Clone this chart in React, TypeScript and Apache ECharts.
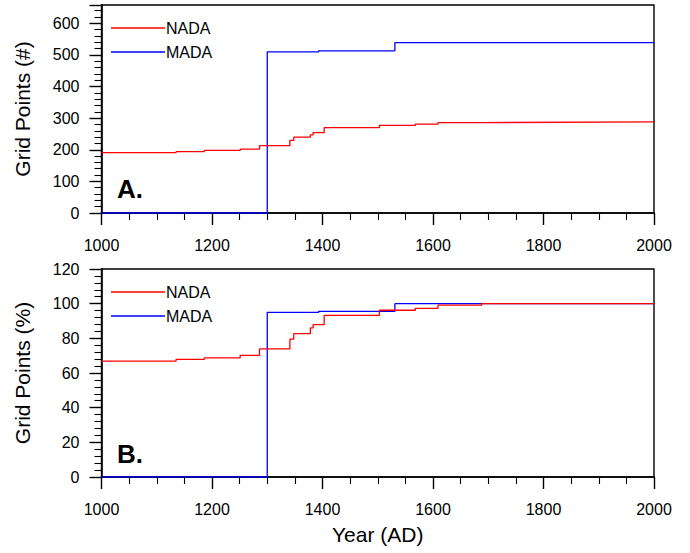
import React, { useEffect, useRef } from "react";
import * as echarts from "echarts";

// NADA step changes (year, count / percent)
const nadaYears = [1000, 1135, 1186, 1251, 1286, 1341, 1348, 1378, 1383, 1403, 1503, 1568, 1609, 1688, 2000];
const nadaCount = [191, 194, 198, 202, 213, 230, 240, 247, 254, 270, 277, 281, 286, 288, 288];
const nadaPct = [66.9, 67.9, 68.7, 70.2, 73.9, 79.6, 82.7, 86.0, 87.9, 93.3, 96.2, 97.3, 99.2, 100, 100];

// MADA step changes
const madaYears = [1000, 1300, 1393, 1531, 2000];
const madaCount = [0, 510, 513, 539, 539];
const madaPct = [0, 95.0, 95.6, 100, 100];

const xTicks = { min: 1000, max: 2000, interval: 200 };
const panelLabels = ["A.", "B."];
const yTitles = ["Grid Points (#)", "Grid Points (%)"];
const xTitle = "Year (AD)";
const seriesNames = ["NADA", "MADA"];
const seriesColors = ["#ff0000", "#0000ff"];

const FONT = "'Liberation Sans', Arial, Helvetica, sans-serif";

const pairs = (xs: number[], ys: number[]) => xs.map((x, i) => [x, ys[i]]);

export default function App() {
  const ref = useRef<HTMLDivElement>(null);
  useEffect(() => {
    if (!ref.current) return;
    const chart = echarts.init(ref.current, undefined, { renderer: "svg" });
    const tops = [5, 269];
    const h = 208;

    const xAxisReal = (gi: number) => ({
      type: "value",
      gridIndex: gi,
      position: "bottom",
      min: xTicks.min,
      max: xTicks.max,
      interval: xTicks.interval,
      axisLine: { show: true, onZero: false, lineStyle: { color: "#000", width: 1.6 } },
      axisTick: { show: true, length: 12, lineStyle: { color: "#000", width: 1.4 } },
      minorTick: { show: true, splitNumber: 4, length: 7, lineStyle: { color: "#000", width: 1.1 } },
      splitLine: { show: false },
      axisLabel: { fontFamily: FONT, fontSize: 16, color: "#000", margin: 24, formatter: (v: number) => String(v) },
    });

    const yAxisReal = (gi: number, max: number, interval: number) => ({
      type: "value",
      gridIndex: gi,
      position: "left",
      min: 0,
      max,
      interval,
      axisLine: { show: true, lineStyle: { color: "#000", width: 1.6 } },
      axisTick: { show: true, length: 12, lineStyle: { color: "#000", width: 1.4 } },
      minorTick: { show: true, splitNumber: 5, length: 7, lineStyle: { color: "#000", width: 1.1 } },
      splitLine: { show: false },
      axisLabel: {
        fontFamily: FONT,
        fontSize: 16,
        color: "#000",
        margin: 22,
        formatter: (v: number) => (v % interval === 0 ? String(v) : ""),
      },
    });

    const titleAxisStyle = {
      min: 0,
      max: 1,
      axisLine: { show: false },
      axisTick: { show: false },
      axisLabel: { show: false },
      splitLine: { show: false },
      nameLocation: "middle",
      nameTextStyle: { fontFamily: FONT, fontSize: 21, color: "#000" },
    };

    const line = (j: number, data: number[][], gi: number) => ({
      name: seriesNames[j],
      type: "line",
      xAxisIndex: gi,
      yAxisIndex: gi,
      step: "end",
      symbol: "none",
      data,
      lineStyle: { color: seriesColors[j], width: 1.3 },
      itemStyle: { color: seriesColors[j] },
    });

    // legend drawn as graphic lines + text
    const legendTops = [28, 292];
    const legendItems: any[] = [];
    legendTops.forEach((ly) => {
      seriesNames.forEach((n, j) => {
        const y = ly + j * 24;
        legendItems.push({
          type: "line",
          shape: { x1: 111, y1: y, x2: 165, y2: y },
          style: { stroke: seriesColors[j], lineWidth: 1.3 },
        });
        legendItems.push({
          type: "text",
          x: 166,
          y,
          style: { text: n, fontFamily: FONT, fontSize: 16, fill: "#000", align: "left", verticalAlign: "middle" },
        });
      });
    });

    chart.setOption({
      animation: false,
      backgroundColor: "#fff",
      title: panelLabels.map((t, i) => ({
        text: t,
        left: 117,
        top: (i === 0 ? 190 : 455) - 14,
        padding: 0,
        textStyle: { fontFamily: FONT, fontSize: 26, fontWeight: "bold", color: "#000" },
      })),
      grid: tops.map((t) => ({
        left: 101.5,
        right: 36,
        top: t,
        height: h,
        show: true,
        borderColor: "#000",
        borderWidth: 1.4,
        backgroundColor: "transparent",
      })),
      xAxis: [
        xAxisReal(0),
        xAxisReal(1),
        { type: "value", gridIndex: 1, position: "bottom", name: xTitle, nameGap: 47, ...titleAxisStyle },
      ],
      yAxis: [
        yAxisReal(0, 658, 100),
        yAxisReal(1, 120, 20),
        { type: "value", gridIndex: 0, position: "left", name: yTitles[0], nameGap: 69, ...titleAxisStyle },
        { type: "value", gridIndex: 1, position: "left", name: yTitles[1], nameGap: 69, ...titleAxisStyle },
      ],
      series: [
        line(1, pairs(madaYears, madaCount), 0),
        line(0, pairs(nadaYears, nadaCount), 0),
        line(1, pairs(madaYears, madaPct), 1),
        line(0, pairs(nadaYears, nadaPct), 1),
      ],
      graphic: legendItems,
    });
    return () => chart.dispose();
  }, []);
  return (
    <div
      ref={ref}
      style={{ position: "absolute", left: 0, top: 0, width: 690, height: 553, background: "#fff" }}
    />
  );
}
